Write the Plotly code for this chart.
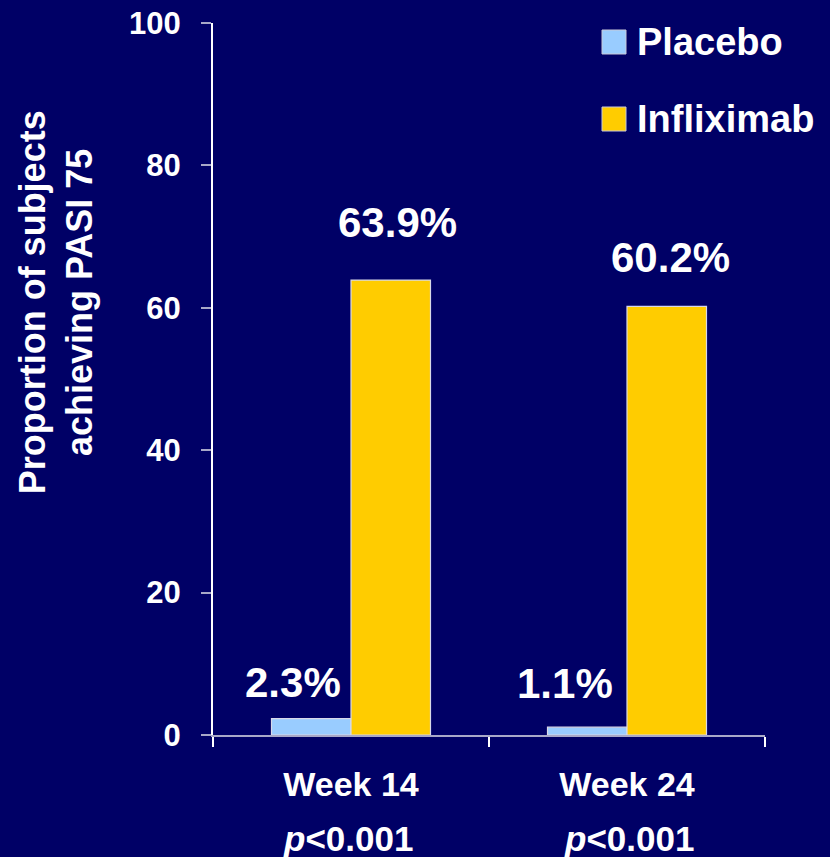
import plotly.graph_objects as go

categories = ["Week 14", "Week 24"]
placebo = [2.3, 1.1]
infliximab = [63.9, 60.2]
p_values = ["p<0.001", "p<0.001"]
series_names = ["Placebo", "Infliximab"]

BG = "#000066"
PLACEBO_C = "#99CCFF"
INFLIX_C = "#FFCC00"
FONT = "Liberation Sans, Arial, sans-serif"

fig = go.Figure()
fig.add_trace(go.Bar(x=categories, y=placebo, name=series_names[0],
                     marker=dict(color=PLACEBO_C, line=dict(color="#D8D8E8", width=1.2))))
fig.add_trace(go.Bar(x=categories, y=infliximab, name=series_names[1],
                     marker=dict(color=INFLIX_C, line=dict(color="#D8D8E8", width=1.2))))

# value labels (manual offsets as in the original slide)
placebo_shift = [(-18, 36), (-22, 44)]
inflix_shift = [(6, 58), (3, 49)]
for i, c in enumerate(categories):
    fig.add_annotation(x=c, y=placebo[i], text=f"<b>{placebo[i]}%</b>", showarrow=False,
                       xshift=-40 + placebo_shift[i][0], yshift=placebo_shift[i][1],
                       yanchor="middle", font=dict(family=FONT, size=42, color="white"))
    fig.add_annotation(x=c, y=infliximab[i], text=f"<b>{infliximab[i]}%</b>", showarrow=False,
                       xshift=40 + inflix_shift[i][0], yshift=inflix_shift[i][1],
                       yanchor="middle", font=dict(family=FONT, size=42, color="white"))
    pv = p_values[i].replace("p<", "<i>p</i>&lt;")
    fig.add_annotation(x=c, y=0, yref="paper", text=f"<b>{pv}</b>", showarrow=False,
                       yanchor="middle", yshift=-103, xshift=-3 + 5 * i,
                       font=dict(family=FONT, size=35, color="white"))

# y-axis title
fig.add_annotation(xref="paper", yref="paper", x=-0.284, y=0.608,
                   text="<b>Proportion of subjects<br>achieving PASI 75</b>",
                   textangle=-90, showarrow=False, xanchor="center", yanchor="middle",
                   font=dict(family=FONT, size=36, color="white"))

# custom legend
colors = [PLACEBO_C, INFLIX_C]
legend_y_px = [42, 119]
for name, col, ypx in zip(series_names, colors, legend_y_px):
    yp = 1 - (ypx - 23) / 712
    fig.add_shape(type="rect", xref="paper", yref="paper",
                  x0=(602 - 213) / 552, x1=(626 - 213) / 552,
                  y0=yp - 12 / 712, y1=yp + 12 / 712,
                  fillcolor=col, line=dict(color="#C8C8D8", width=1))
    fig.add_annotation(xref="paper", yref="paper", x=(635 - 213) / 552, y=yp,
                       text=f"<b>{name}</b>", showarrow=False, xanchor="left", yanchor="middle",
                       font=dict(family=FONT, size=38, color="white"))

fig.update_layout(
    width=830, height=857,
    margin=dict(l=213, r=65, t=23, b=122),
    paper_bgcolor=BG, plot_bgcolor=BG,
    barmode="group", bargap=0.424, bargroupgap=0,
    showlegend=False,
    font=dict(family=FONT, color="white"),
)
fig.update_xaxes(
    automargin=False,
    showline=True, linecolor="#A8A8C8", linewidth=2,
    ticks="outside", tickson="boundaries", ticklen=10, tickcolor="white", tickwidth=2,
    ticklabelstandoff=18,
    tickfont=dict(family=FONT, size=34, color="white"),
    tickvals=categories, ticktext=[f"<b>{c}</b>" for c in categories],
    showgrid=False, zeroline=False,
)
fig.update_yaxes(
    automargin=False,
    range=[0, 100], tickvals=[0, 20, 40, 60, 80, 100],
    ticktext=[f"<b>{v}</b>" for v in [0, 20, 40, 60, 80, 100]],
    showline=True, linecolor="white", linewidth=2,
    ticks="outside", ticklen=10, tickcolor="#A8A8C8", tickwidth=2,
    ticklabelstandoff=14,
    tickfont=dict(family=FONT, size=31, color="white"),
    showgrid=False, zeroline=False,
)

fig.write_html("out.html")
